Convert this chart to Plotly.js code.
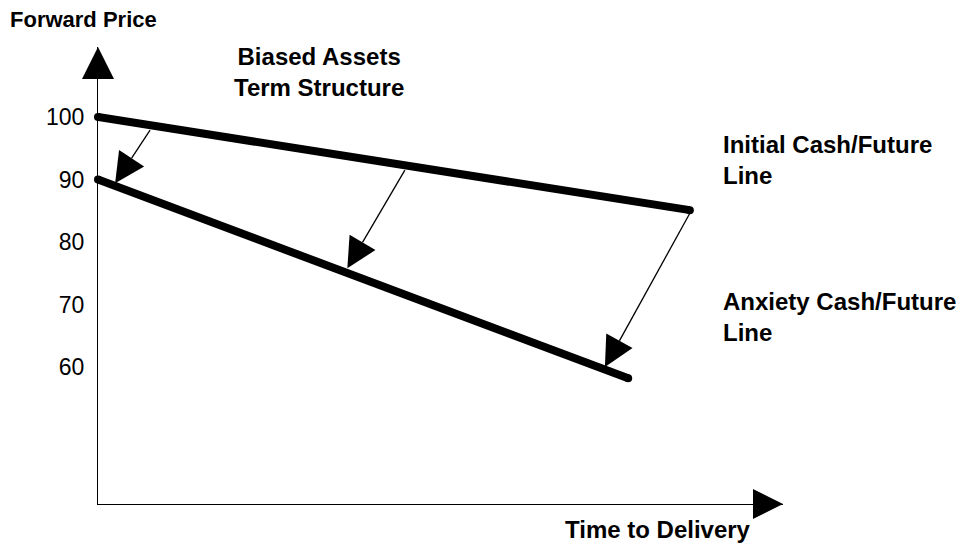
<!DOCTYPE html>
<html>
<head>
<meta charset="utf-8">
<script src="https://cdn.plot.ly/plotly-3.0.1.min.js"></script>
<style>
  html, body { margin: 0; padding: 0; background: #fff; }
  #grafico { width: 979px; height: 543px; }
</style>
</head>
<body>
<div id="grafico"></div>
<script>
// valores (tiempo en unidades arbitrarias, 0..100)
const tiempoInicial = [0, 86.4];
const precioInicial = [100, 85.1];
const tiempoAnsiedad = [0, 77.4];
const precioAnsiedad = [90, 58.2];

// flechas entre líneas: [inicio, punta]
const flechasX = [[7.6, 2.5], [44.8, 36.4], [86.4, 74.0]];
const flechasY = [[97.9, 89.4], [91.5, 75.8], [84.6, 60.0]];

const ticksY = [60, 70, 80, 90, 100];
const rangoX = [0, 100];
const rangoY = [38.1, 111.2];

const fuente = 'Liberation Sans, Arial, Helvetica, sans-serif';
const negro = '#000';

const trazas = [];

trazas.push({
  x: tiempoInicial, y: precioInicial, mode: 'lines+markers',
  line: { color: negro, width: 8 },
  marker: { size: 8, color: negro }, hoverinfo: 'skip', cliponaxis: false
});
trazas.push({
  x: tiempoAnsiedad, y: precioAnsiedad, mode: 'lines+markers',
  line: { color: negro, width: 8 },
  marker: { size: 8, color: negro }, hoverinfo: 'skip', cliponaxis: false
});

flechasX.forEach((fx, i) => {
  trazas.push({
    x: fx, y: flechasY[i], mode: 'lines+markers',
    line: { color: negro, width: 1.3 },
    marker: {
      symbol: ['circle', 'arrow-up'], size: [0, 30], color: negro,
      opacity: 1, angleref: 'previous', line: { width: 0 }
    },
    hoverinfo: 'skip', cliponaxis: false
  });
});

// puntas de los ejes
trazas.push({
  x: [rangoX[0]], y: [rangoY[1]], mode: 'markers',
  marker: { symbol: 'arrow-up', size: 32, color: negro, opacity: 1 },
  hoverinfo: 'skip', cliponaxis: false
});
trazas.push({
  x: [rangoX[1]], y: [rangoY[0]], mode: 'markers',
  marker: { symbol: 'arrow-right', size: 30, color: negro, opacity: 1 },
  hoverinfo: 'skip', cliponaxis: false
});

const textoNegrita = (t) => '<b>' + t + '</b>';

const layout = {
  width: 979, height: 543,
  showlegend: false,
  paper_bgcolor: '#fff', plot_bgcolor: '#fff',
  margin: { l: 98, r: 196, t: 47, b: 39 },
  font: { family: fuente, color: negro },
  xaxis: {
    range: rangoX, showgrid: false, zeroline: false,
    showline: true, linecolor: negro, linewidth: 1,
    showticklabels: false, ticks: ''
  },
  yaxis: {
    range: rangoY, showgrid: false, zeroline: false,
    showline: true, linecolor: negro, linewidth: 1,
    tickvals: ticksY, ticktext: ticksY.map(String), ticks: '',
    tickfont: { size: 23, family: fuente, color: negro },
    ticklabelstandoff: 8
  },
  annotations: [
    { text: textoNegrita('Forward Price'), xref: 'paper', yref: 'paper', x: -0.1314, y: 1.061,
      xanchor: 'left', yanchor: 'middle', showarrow: false, font: { size: 22 } },
    { text: textoNegrita('Biased Assets') + '<br>' + textoNegrita('Term Structure'), xref: 'paper', yref: 'paper',
      x: 0.3226, y: 0.945, xanchor: 'center', yanchor: 'middle', align: 'center', showarrow: false, font: { size: 24 } },
    { text: textoNegrita('Initial Cash/Future') + '<br>' + textoNegrita('Line'), xref: 'paper', yref: 'paper',
      x: 0.9095, y: 0.753, xanchor: 'left', yanchor: 'middle', align: 'left', showarrow: false, font: { size: 24 } },
    { text: textoNegrita('Anxiety Cash/Future') + '<br>' + textoNegrita('Line'), xref: 'paper', yref: 'paper',
      x: 0.9095, y: 0.409, xanchor: 'left', yanchor: 'middle', align: 'left', showarrow: false, font: { size: 24 } },
    { text: textoNegrita('Time to Delivery'), xref: 'paper', yref: 'paper', x: 0.956, y: -0.0556,
      xanchor: 'right', yanchor: 'middle', showarrow: false, font: { size: 24 } }
  ]
};

Plotly.newPlot('grafico', trazas, layout, { displayModeBar: false, staticPlot: true });
</script>
</body>
</html>
